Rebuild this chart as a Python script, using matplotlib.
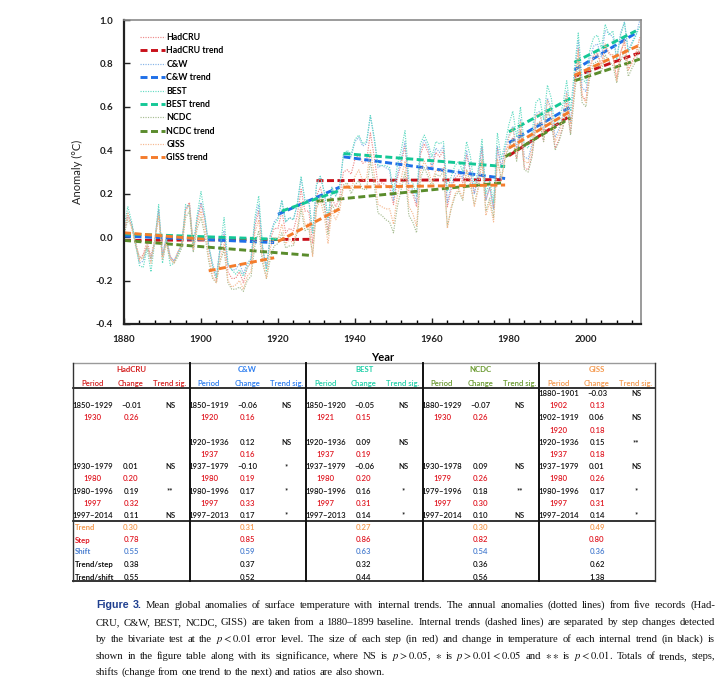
import matplotlib
matplotlib.use("Agg")
import matplotlib.pyplot as plt
from matplotlib.lines import Line2D
from matplotlib.transforms import IdentityTransform

plt.rcParams["font.family"] = ["Lato", "DejaVu Sans"]
plt.rcParams["axes.unicode_minus"] = False
plt.rcParams["mathtext.fontset"] = "stix"

# ---- annual anomalies, 1880-1899 baseline ----
years = list(range(1880, 2015))

hadcru = [0.02, 0.10, 0.06, -0.02, -0.10, -0.08, -0.02, -0.09, -0.01, 0.12,
          -0.09, 0.00, -0.09, -0.11, -0.07, -0.03, 0.13, 0.16, -0.05, 0.08,
          0.15, 0.08, -0.05, -0.14, -0.20, -0.05, 0.01, -0.16, -0.19, -0.19,
          -0.16, -0.21, -0.14, -0.12, 0.05, 0.12, -0.06, -0.14, -0.01, 0.04,
          0.04, 0.12, 0.02, 0.04, 0.03, 0.10, 0.22, 0.12, 0.12, -0.03,
          0.19, 0.23, 0.16, 0.03, 0.18, 0.14, 0.18, 0.30, 0.31, 0.29,
          0.36, 0.38, 0.34, 0.35, 0.48, 0.37, 0.24, 0.25, 0.24, 0.23,
          0.15, 0.27, 0.34, 0.42, 0.21, 0.20, 0.14, 0.38, 0.43, 0.39,
          0.31, 0.39, 0.37, 0.40, 0.14, 0.22, 0.27, 0.29, 0.25, 0.38,
          0.30, 0.20, 0.28, 0.41, 0.17, 0.23, 0.13, 0.41, 0.32, 0.40,
          0.42, 0.46, 0.36, 0.49, 0.32, 0.31, 0.38, 0.52, 0.53, 0.44,
          0.59, 0.54, 0.41, 0.45, 0.51, 0.62, 0.48, 0.69, 0.87, 0.65,
          0.63, 0.78, 0.84, 0.85, 0.79, 0.88, 0.85, 0.83, 0.73, 0.85,
          0.90, 0.77, 0.81, 0.84, 0.92]

cw = [0.03, 0.11, 0.06, -0.03, -0.12, -0.11, -0.04, -0.11, -0.02, 0.13,
      -0.08, 0.00, -0.09, -0.11, -0.07, -0.03, 0.13, 0.15, -0.06, 0.09,
      0.16, 0.09, -0.04, -0.12, -0.18, -0.04, 0.03, -0.13, -0.15, -0.15,
      -0.12, -0.17, -0.12, -0.10, 0.07, 0.15, -0.05, -0.14, 0.01, 0.07,
      0.09, 0.17, 0.07, 0.09, 0.08, 0.15, 0.27, 0.17, 0.17, 0.02,
      0.24, 0.28, 0.21, 0.08, 0.23, 0.19, 0.23, 0.38, 0.39, 0.37,
      0.44, 0.46, 0.42, 0.43, 0.56, 0.45, 0.32, 0.33, 0.32, 0.31,
      0.17, 0.29, 0.36, 0.44, 0.23, 0.22, 0.16, 0.40, 0.45, 0.41,
      0.33, 0.41, 0.39, 0.42, 0.16, 0.24, 0.29, 0.31, 0.27, 0.40,
      0.30, 0.20, 0.28, 0.42, 0.17, 0.23, 0.13, 0.42, 0.32, 0.41,
      0.47, 0.51, 0.41, 0.54, 0.37, 0.36, 0.43, 0.57, 0.58, 0.49,
      0.64, 0.59, 0.46, 0.50, 0.56, 0.67, 0.53, 0.73, 0.91, 0.69,
      0.67, 0.82, 0.88, 0.89, 0.83, 0.95, 0.94, 0.92, 0.82, 0.94,
      0.99, 0.86, 0.90, 0.93, 1.00]

best = [0.05, 0.14, 0.07, -0.03, -0.13, -0.14, -0.05, -0.16, -0.02, 0.15,
        -0.12, -0.01, -0.13, -0.12, -0.08, -0.04, 0.15, 0.14, -0.04, 0.10,
        0.21, 0.10, -0.04, -0.13, -0.19, -0.05, 0.09, -0.12, -0.15, -0.17,
        -0.15, -0.18, -0.14, -0.10, 0.09, 0.19, -0.04, -0.16, 0.01, 0.06,
        0.08, 0.17, 0.07, 0.09, 0.08, 0.15, 0.28, 0.17, 0.17, 0.02,
        0.24, 0.28, 0.21, 0.09, 0.23, 0.19, 0.23, 0.38, 0.40, 0.38,
        0.45, 0.47, 0.43, 0.44, 0.56, 0.46, 0.33, 0.33, 0.33, 0.32,
        0.21, 0.33, 0.40, 0.49, 0.27, 0.25, 0.19, 0.43, 0.47, 0.43,
        0.37, 0.44, 0.43, 0.44, 0.21, 0.28, 0.33, 0.35, 0.30, 0.44,
        0.37, 0.23, 0.31, 0.45, 0.20, 0.26, 0.16, 0.48, 0.36, 0.43,
        0.52, 0.58, 0.46, 0.60, 0.42, 0.41, 0.48, 0.62, 0.64, 0.54,
        0.70, 0.64, 0.50, 0.54, 0.61, 0.72, 0.58, 0.77, 0.94, 0.73,
        0.71, 0.86, 0.92, 0.93, 0.87, 0.98, 0.93, 0.95, 0.82, 0.93,
        0.99, 0.85, 0.89, 0.93, 0.97]

ncdc = [0.01, 0.08, 0.05, -0.04, -0.09, -0.10, -0.04, -0.10, -0.02, 0.10,
        -0.10, -0.02, -0.10, -0.12, -0.09, -0.05, 0.09, 0.12, -0.07, 0.04,
        0.09, 0.01, -0.11, -0.19, -0.21, -0.11, -0.06, -0.21, -0.24, -0.24,
        -0.23, -0.25, -0.20, -0.18, -0.04, 0.03, -0.12, -0.19, -0.10, -0.04,
        -0.03, 0.02, -0.05, -0.04, -0.04, 0.02, 0.13, 0.03, 0.04, -0.08,
        0.14, 0.19, 0.14, 0.01, 0.15, 0.12, 0.15, 0.24, 0.25, 0.20,
        0.24, 0.26, 0.22, 0.22, 0.35, 0.24, 0.11, 0.10, 0.08, 0.07,
        0.02, 0.14, 0.22, 0.30, 0.10, 0.07, 0.02, 0.27, 0.32, 0.28,
        0.23, 0.29, 0.28, 0.30, 0.05, 0.13, 0.19, 0.21, 0.17, 0.31,
        0.24, 0.15, 0.23, 0.36, 0.12, 0.18, 0.09, 0.36, 0.27, 0.37,
        0.41, 0.45, 0.35, 0.49, 0.31, 0.30, 0.37, 0.51, 0.53, 0.44,
        0.58, 0.53, 0.40, 0.44, 0.50, 0.60, 0.47, 0.65, 0.81, 0.62,
        0.60, 0.74, 0.80, 0.81, 0.76, 0.84, 0.81, 0.79, 0.71, 0.81,
        0.86, 0.74, 0.78, 0.81, 0.88]

giss = [0.03, 0.11, 0.04, -0.03, -0.11, -0.09, -0.04, -0.12, -0.02, 0.10,
        -0.10, -0.03, -0.10, -0.12, -0.07, -0.04, 0.12, 0.15, -0.06, 0.06,
        0.12, 0.04, -0.09, -0.18, -0.21, -0.10, -0.03, -0.20, -0.23, -0.22,
        -0.20, -0.24, -0.18, -0.16, 0.02, 0.08, -0.10, -0.19, -0.05, 0.00,
        -0.01, 0.06, -0.03, -0.01, -0.03, 0.04, 0.16, 0.06, 0.06, -0.09,
        0.13, 0.17, 0.10, -0.03, 0.12, 0.08, 0.12, 0.23, 0.24, 0.22,
        0.28, 0.31, 0.26, 0.27, 0.40, 0.29, 0.15, 0.14, 0.13, 0.13,
        0.06, 0.19, 0.27, 0.35, 0.14, 0.11, 0.05, 0.30, 0.35, 0.31,
        0.25, 0.31, 0.30, 0.32, 0.04, 0.14, 0.20, 0.22, 0.18, 0.31,
        0.26, 0.14, 0.22, 0.35, 0.10, 0.16, 0.07, 0.36, 0.26, 0.36,
        0.46, 0.50, 0.39, 0.53, 0.35, 0.34, 0.41, 0.56, 0.57, 0.48,
        0.63, 0.58, 0.44, 0.48, 0.55, 0.66, 0.52, 0.67, 0.86, 0.65,
        0.62, 0.77, 0.83, 0.84, 0.79, 0.89, 0.84, 0.84, 0.72, 0.85,
        0.91, 0.77, 0.80, 0.85, 0.92]

# internal trends: (start year, end year, start value, end value)
hadcru_trend = [(1880, 1929, -0.015, -0.01), (1930, 1979, 0.26, 0.265),
                (1980, 1996, 0.375, 0.56), (1997, 2014, 0.74, 0.85)]
cw_trend = [(1880, 1919, 0.005, -0.025), (1920, 1936, 0.105, 0.23), (1937, 1979, 0.37, 0.27),
            (1980, 1996, 0.435, 0.60), (1997, 2013, 0.77, 0.94)]
best_trend = [(1880, 1920, 0.015, -0.01), (1921, 1936, 0.12, 0.215), (1937, 1979, 0.385, 0.325),
              (1980, 1996, 0.485, 0.64), (1997, 2013, 0.805, 0.95)]
ncdc_trend = [(1880, 1929, -0.015, -0.085), (1930, 1978, 0.165, 0.25),
              (1979, 1996, 0.37, 0.55), (1997, 2014, 0.72, 0.82)]
giss_trend = [(1880, 1901, 0.02, -0.01), (1902, 1919, -0.155, -0.095), (1920, 1936, -0.02, 0.13),
              (1937, 1979, 0.23, 0.24), (1980, 1996, 0.41, 0.58), (1997, 2014, 0.745, 0.885)]

# ---- figure table ----
records = ["HadCRU", "C&W", "BEST", "NCDC", "GISS"]
hadcru_period = ["", "1850–1929", "1930", "", "", "", "1930–1979", "1980", "1980–1996", "1997", "1997–2014"]
hadcru_change = ["", "–0.01", "0.26", "", "", "", "0.01", "0.20", "0.19", "0.32", "0.11"]
hadcru_sig = ["", "NS", "", "", "", "", "NS", "", "**", "", "NS"]
cw_period = ["", "1850–1919", "1920", "", "1920–1936", "1937", "1937–1979", "1980", "1980–1996", "1997", "1997–2013"]
cw_change = ["", "–0.06", "0.16", "", "0.12", "0.16", "–0.10", "0.19", "0.17", "0.33", "0.17"]
cw_sig = ["", "NS", "", "", "NS", "", "*", "", "*", "", "*"]
best_period = ["", "1850–1920", "1921", "", "1920–1936", "1937", "1937–1979", "1980", "1980–1996", "1997", "1997–2013"]
best_change = ["", "–0.05", "0.15", "", "0.09", "0.19", "–0.06", "0.20", "0.16", "0.31", "0.14"]
best_sig = ["", "NS", "", "", "NS", "", "NS", "", "*", "", "*"]
ncdc_period = ["", "1880–1929", "1930", "", "", "", "1930–1978", "1979", "1979–1996", "1997", "1997–2014"]
ncdc_change = ["", "–0.07", "0.26", "", "", "", "0.09", "0.26", "0.18", "0.30", "0.10"]
ncdc_sig = ["", "NS", "", "", "", "", "NS", "", "**", "", "NS"]
giss_period = ["1880–1901", "1902", "1902–1919", "1920", "1920–1936", "1937", "1937–1979", "1980", "1980–1996", "1997", "1997–2014"]
giss_change = ["–0.03", "0.13", "0.06", "0.18", "0.15", "0.18", "0.01", "0.26", "0.17", "0.31", "0.14"]
giss_sig = ["NS", "", "NS", "", "**", "", "NS", "", "*", "", "*"]

summary_labels = ["Trend", "Step", "Shift", "Trend/step", "Trend/shift"]
trend_total = [0.30, 0.31, 0.27, 0.30, 0.49]
step_total = [0.78, 0.85, 0.86, 0.82, 0.80]
shift_total = [0.55, 0.59, 0.63, 0.54, 0.36]
trend_step = [0.38, 0.37, 0.32, 0.36, 0.62]
trend_shift = [0.55, 0.52, 0.44, 0.56, 1.38]

caption_lines = [
    "Figure 3. Mean global anomalies of surface temperature with internal trends. The annual anomalies (dotted lines) from five records (Had-",
    "CRU, C&W, BEST, NCDC, GISS) are taken from a 1880–1899 baseline. Internal trends (dashed lines) are separated by step changes detected",
    "by the bivariate test at the $p<0.01$ error level. The size of each step (in red) and change in temperature of each internal trend (in black) is",
    "shown in the figure table along with its significance, where NS is $p>0.05$, $\\ast$ is $p>0.01{<}0.05$ and $\\ast\\ast$ is $p<0.01$. Totals of trends, steps,",
    "shifts (change from one trend to the next) and ratios are also shown.",
]

# ---- styles ----
W, H = 720, 677
data_colors = {"HadCRU": "#ee8a8a", "C&W": "#86b4e8", "BEST": "#66dcc4", "NCDC": "#a8bd92", "GISS": "#f6b990"}
trend_colors = {"HadCRU": "#c8101a", "C&W": "#1f6fe8", "BEST": "#14c896", "NCDC": "#5a8c2c", "GISS": "#f47c2c"}
head_colors = {"HadCRU": "#d42020", "C&W": "#2f7ff0", "BEST": "#20d0a8", "NCDC": "#6a9a30", "GISS": "#f59a50"}
step_red = "#e01a24"


def px(x):
    return x / W


def py(y):
    return 1 - y / H


fig = plt.figure(figsize=(7.2, 6.77), dpi=100)
fig.patch.set_facecolor("white")
ax = fig.add_axes([px(124), py(324), (641 - 124) / W, (324 - 20) / H])

series = [("HadCRU", hadcru, hadcru_trend), ("C&W", cw, cw_trend), ("BEST", best, best_trend),
          ("NCDC", ncdc, ncdc_trend), ("GISS", giss, giss_trend)]
for name, vals, segs in series:
    ax.plot(years, vals, color=data_colors[name], lw=0.85, ls=(0, (1, 1.1)), label=name)
    for i, (y0, y1, v0, v1) in enumerate(segs):
        ax.plot([y0, y1], [v0, v1], color=trend_colors[name], lw=2.1, dashes=(2.4, 1.2),
                label=name + " trend" if i == 0 else "_nolegend_")

ax.set_xlim(1880, 2014.3)
ax.set_ylim(-0.4, 1.0)
ax.set_xticks(range(1880, 2001, 20))
ax.set_xticks(range(1880, 2015, 4), minor=True)
ax.set_yticks([-0.4, -0.2, 0.0, 0.2, 0.4, 0.6, 0.8, 1.0])
ax.set_yticklabels(["%.1f" % v for v in ax.get_yticks()])
ax.tick_params(axis="both", which="major", direction="in", length=4, width=1, pad=8,
               labelsize=7, colors="#222222")
ax.tick_params(axis="x", which="minor", direction="in", length=3, width=1)
for lab in ax.get_xticklabels() + ax.get_yticklabels():
    lab.set_fontweight("bold")
for side in ["left", "bottom"]:
    ax.spines[side].set_linewidth(1.6)
    ax.spines[side].set_color("#222222")
for side in ["top", "right"]:
    ax.spines[side].set_linewidth(1.2)
    ax.spines[side].set_color("#8a8a8a")
ax.set_xlabel("Year", fontsize=8, fontweight="bold", labelpad=6)
ax.set_ylabel("Anomaly (°C)", fontsize=8, labelpad=9, color="#222222")

leg = ax.legend(loc="upper left", bbox_to_anchor=(0.03, 0.957), frameon=False, borderpad=0,
                borderaxespad=0, labelspacing=0.5, handlelength=2.9, handletextpad=0.15,
                prop={"size": 6.3, "weight": "bold"})

# ---- table ----
block_left = [73, 189.5, 306, 422.5, 539]
row_y = [394, 406, 418, 430.5, 442.5, 454.5, 466.5, 478.5, 491, 503, 515]
sum_y = [527.5, 540, 552, 564.5, 577]
tfs = 5.6

fig.add_artist(Line2D([px(73), px(655)], [py(363), py(363)], color="#9a9a9a", lw=1.0))
for yy in [388, 521]:
    fig.add_artist(Line2D([px(73), px(655)], [py(yy), py(yy)], color="#111111", lw=1.2))
fig.add_artist(Line2D([px(73), px(655)], [py(581), py(581)], color="#333333", lw=1.4))
for xx in block_left[1:]:
    fig.add_artist(Line2D([px(xx), px(xx)], [py(363), py(581)], color="#111111", lw=1.4))
for xx in [73, 655]:
    fig.add_artist(Line2D([px(xx), px(xx)], [py(363), py(581)], color="#333333", lw=1.0))

columns = [(hadcru_period, hadcru_change, hadcru_sig), (cw_period, cw_change, cw_sig),
           (best_period, best_change, best_sig), (ncdc_period, ncdc_change, ncdc_sig),
           (giss_period, giss_change, giss_sig)]
for k, name in enumerate(records):
    L = block_left[k]
    hc = head_colors[name]
    fig.text(px(L + 58), py(370), name, color=hc, fontsize=tfs, fontweight="bold", ha="center", va="center")
    for dx, lab in [(19.5, "Period"), (58, "Change"), (97, "Trend sig.")]:
        fig.text(px(L + dx), py(383), lab, color=hc, fontsize=tfs, fontweight="semibold", ha="center", va="center")
    periods, changes, sigs = columns[k]
    for r in range(len(row_y)):
        is_step = len(periods[r]) == 4
        col = step_red if is_step else "#111111"
        if periods[r]:
            fig.text(px(L + 19.5), py(row_y[r]), periods[r], color=col, fontsize=tfs,
                     fontweight="semibold", ha="center", va="center")
        if changes[r]:
            fig.text(px(L + 58), py(row_y[r]), changes[r], color=col, fontsize=tfs,
                     fontweight="semibold", ha="center", va="center")
        if sigs[r]:
            fig.text(px(L + 97), py(row_y[r]), sigs[r], color="#111111", fontsize=tfs,
                     fontweight="semibold", ha="center", va="center")

summary_vals = [trend_total, step_total, shift_total, trend_step, trend_shift]
summary_colors = ["#f59a50", step_red, "#4a7fd0", "#111111", "#111111"]
for j, lab in enumerate(summary_labels):
    fig.text(px(75), py(sum_y[j]), lab, color=summary_colors[j], fontsize=tfs,
             fontweight="bold", ha="left", va="center")
    for k in range(len(records)):
        fig.text(px(block_left[k] + 58), py(sum_y[j]), "%.2f" % summary_vals[j][k],
                 color=summary_colors[j], fontsize=tfs, fontweight="semibold", ha="center", va="center")

# ---- caption, justified between x=96 and x=715 ----
renderer = fig.canvas.get_renderer()
cap_x0, cap_x1 = 96, 715
cap_base = [608, 625, 642, 659, 675]
cap_fs = 7.7
for li, line in enumerate(caption_lines):
    words = line.split(" ")
    objs = []
    for wi, word in enumerate(words):
        if li == 0 and wi < 2:
            t = fig.text(0, 0, word, transform=IdentityTransform(), fontsize=cap_fs, fontweight="bold",
                         color="#1f3f8f", family=["Liberation Sans", "DejaVu Sans"], va="baseline")
        else:
            t = fig.text(0, 0, word, transform=IdentityTransform(), fontsize=cap_fs, color="#111111",
                         family=["Liberation Serif", "DejaVu Serif"], va="baseline")
        objs.append(t)
    widths = [o.get_window_extent(renderer).width for o in objs]
    if li < len(caption_lines) - 1:
        gap = (cap_x1 - cap_x0 - sum(widths)) / (len(objs) - 1)
    else:
        gap = cap_fs * 100 / 72 * 0.25
    x = cap_x0
    for o, w in zip(objs, widths):
        o.set_position((x, H - cap_base[li]))
        x += w + gap

fig.savefig("out.png", dpi=100, facecolor="white")
